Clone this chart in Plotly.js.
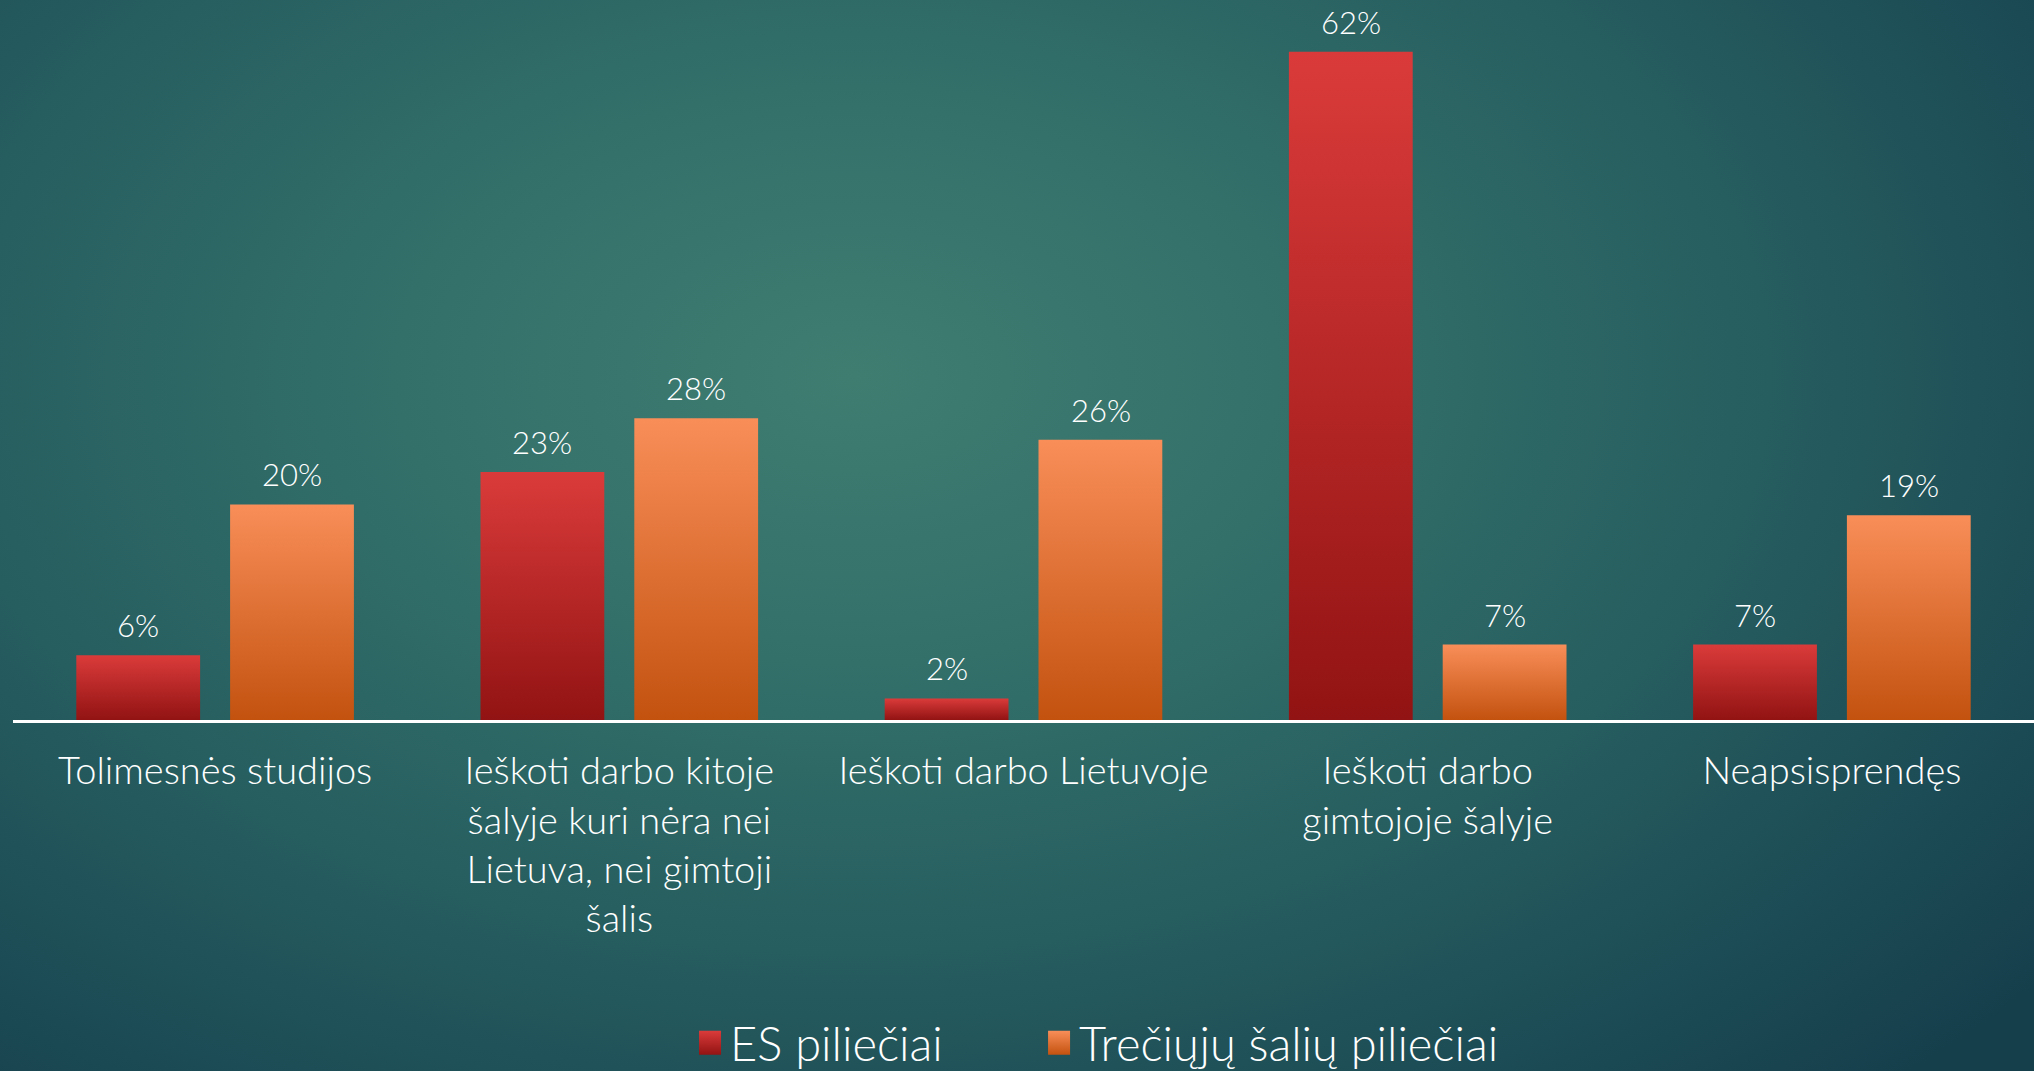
<!DOCTYPE html>
<html>
<head>
<meta charset="utf-8">
<script src="https://cdn.plot.ly/plotly-3.0.1.min.js"></script>
<style>
  html, body { margin: 0; padding: 0; width: 2034px; height: 1071px; overflow: hidden; }
  body { background: radial-gradient(ellipse 75% 90% at 42% 35%, #3f7d71 0%, #33706a 30%, #265d5f 60%, #1b4a54 85%, #163f4c 100%); }
  #chart { width: 2034px; height: 1071px; }
</style>
</head>
<body>
<div id="chart"></div>
<script>
const categories = [
  "Tolimesnės studijos",
  "Ieškoti darbo kitoje<br>šalyje kuri nėra nei<br>Lietuva, nei gimtoji<br>šalis",
  "Ieškoti darbo Lietuvoje",
  "Ieškoti darbo<br>gimtojoje šalyje",
  "Neapsisprendęs"
];
const seriesNames = ["ES piliečiai", "Trečiųjų šalių piliečiai"];
const esValues = [6, 23, 2, 62, 7];
const thirdValues = [20, 28, 26, 7, 19];

const FONT = "Lato, 'Open Sans', sans-serif";

const traces = [
  { type: "bar", name: seriesNames[0], x: categories, y: esValues, legend: "legend",
    marker: { color: "#c42a2a" }, hoverinfo: "none" },
  { type: "bar", name: seriesNames[1], x: categories, y: thirdValues, legend: "legend2",
    marker: { color: "#e2703a" }, hoverinfo: "none" }
];

const annotations = [];
[esValues, thirdValues].forEach((vals, si) => {
  vals.forEach((v, i) => {
    annotations.push({
      x: categories[i], y: v, xref: "x", yref: "y",
      text: v + "%", showarrow: false,
      xshift: si === 0 ? -77 : 77, yanchor: "bottom", yshift: 9,
      font: { family: FONT, size: 31, color: "#ffffff", weight: 300 }
    });
  });
});

const legendBase = {
  orientation: "h", xanchor: "left", y: -0.449, yanchor: "middle",
  font: { family: FONT, size: 47, color: "#ffffff", weight: 300 },
  bgcolor: "rgba(0,0,0,0)"
};

const layout = {
  width: 2034, height: 1071,
  paper_bgcolor: "rgba(0,0,0,0)", plot_bgcolor: "rgba(0,0,0,0)",
  margin: { l: 13, r: 0, t: 0, b: 350.5, autoexpand: false },
  barmode: "group", bargap: 0.239, bargroupgap: 0.195,
  font: { family: FONT, color: "#ffffff", weight: 300 },
  xaxis: {
    showline: true, linecolor: "#ffffff", linewidth: 2.5,
    showgrid: false, zeroline: false, ticks: "",
    ticklabelstandoff: 16, automargin: false,
    tickfont: { family: FONT, size: 38, color: "#ffffff", weight: 300 },
    fixedrange: true
  },
  yaxis: {
    range: [0, 66.8], visible: false, showgrid: false, zeroline: false, fixedrange: true
  },
  showlegend: true,
  legend: Object.assign({}, legendBase, { x: 0.335 }),
  legend2: Object.assign({}, legendBase, { x: 0.5077 }),
  annotations: annotations
};

Plotly.newPlot("chart", traces, layout, { displayModeBar: false, staticPlot: true }).then(gd => {
  const svg = gd.querySelector(".main-svg");
  let defs = svg.querySelector("defs");
  const ns = "http://www.w3.org/2000/svg";
  function grad(id, top, bottom) {
    const g = document.createElementNS(ns, "linearGradient");
    g.setAttribute("id", id);
    g.setAttribute("x1", "0"); g.setAttribute("y1", "0");
    g.setAttribute("x2", "0"); g.setAttribute("y2", "1");
    const s1 = document.createElementNS(ns, "stop");
    s1.setAttribute("offset", "0"); s1.setAttribute("stop-color", top);
    const s2 = document.createElementNS(ns, "stop");
    s2.setAttribute("offset", "1"); s2.setAttribute("stop-color", bottom);
    g.appendChild(s1); g.appendChild(s2);
    defs.appendChild(g);
  }
  grad("gRed", "#da3b3a", "#921313");
  grad("gOrange", "#f98e59", "#c3520f");
  const ids = ["gRed", "gOrange"];
  gd.querySelectorAll(".barlayer .trace").forEach((t, i) => {
    t.querySelectorAll("path").forEach(p => { p.style.fill = "url(#" + ids[i] + ")"; });
  });
  [".legend", ".legend2"].forEach((sel, i) => {
    gd.querySelectorAll(sel + " .legendpoints path").forEach(p => {
      p.setAttribute("d", "M11,12H-11V-12H11Z");
      p.style.fill = "url(#" + ids[i] + ")";
      p.style.stroke = "none";
    });
  });
});
</script>
</body>
</html>
